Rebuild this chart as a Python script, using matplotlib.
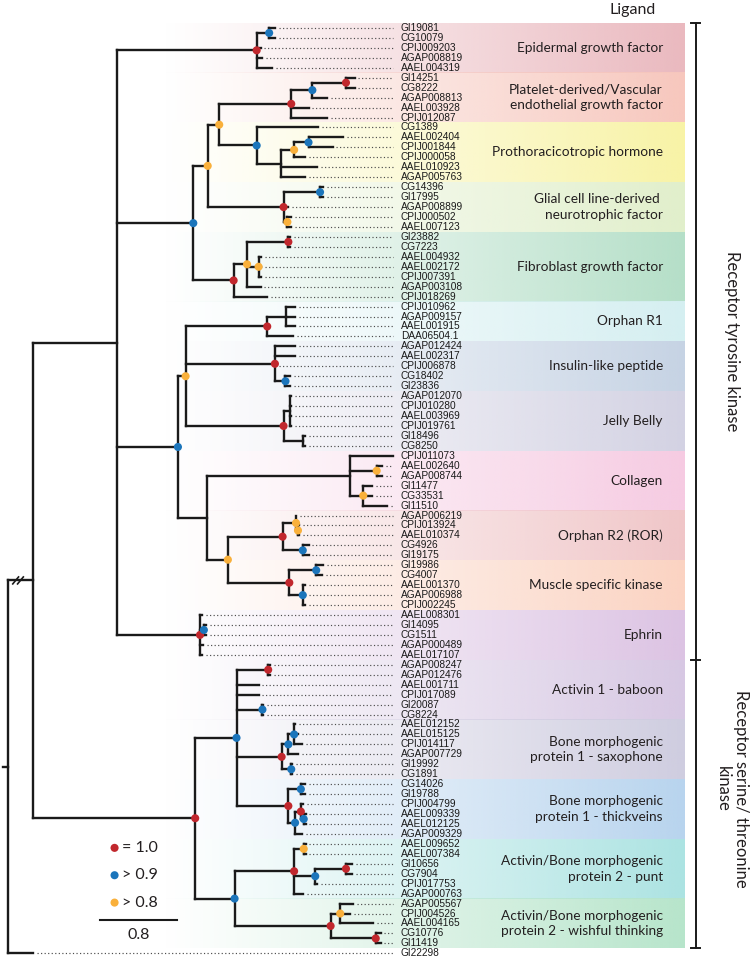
import numpy as np
import matplotlib
matplotlib.use("Agg")
import matplotlib.pyplot as plt
from matplotlib.collections import LineCollection
from matplotlib.colors import to_rgb

# Tree in Newick form: number after ':' = distance from root, label after ')' = posterior support
egf = "((GI19081:2.78,CG10079:2.78)0.95:2.72,CPIJ009203:2.63,AGAP008819:2.65,AAEL004319:2.75)1:2.59"
pdgf = "(((GI14251:3.61,CG8222:3.61)1:3.52,AGAP008813:3.32)0.95:3.17,AAEL003928:3.13,CPIJ012087:3.32)1:2.95"
ptth = ("(CG1389:3.23,(((AAEL002404:3.49,CPIJ001844:3.38)0.95:3.13,CPIJ000058:3.09)0.85:2.98,"
        "AAEL010923:3.22,AGAP005763:3.09):2.84)0.95:2.59")
gdnf = "((CG14396:3.28,GI17995:3.28)0.95:3.25,AGAP008899:2.92,(CPIJ000502:2.95,AAEL007123:2.95)0.85:2.91)1:2.87"
fgf = ("(((GI23882:2.94,CG7223:2.94)1:2.92,(AAEL004932:2.64,AAEL002172:2.64,CPIJ007391:2.64)0.85:2.61,"
       "AGAP003108:2.63)0.85:2.49,CPIJ018269:2.70)1:2.35")
orphan1 = "((CPIJ010962:2.99,AGAP009157:2.99,AAEL001915:2.99):2.90,DAA06504.1:2.97)1:2.70"
insulin = "(AGAP012424:2.99,AAEL002317:2.99,CPIJ006878:2.78,(CG18402:2.94,GI23836:2.94)0.95:2.89)1:2.78"
jelly = ("((AGAP012070:2.95,CPIJ010280:2.95,AAEL003969:2.95,CPIJ019761:2.95):2.94,"
         "(GI18496:3.09,CG8250:3.09):3.07)1:2.87")
collagen = ("(CPIJ011073:4.01,(AAEL002640:3.90,AGAP008744:3.90)0.85:3.84,"
            "(GI11477:3.79,CG33531:3.79,GI11510:3.95)0.85:3.70):3.56")
ror = "((AGAP006219:3.00,(CPIJ013924:3.03,AAEL010374:3.03)0.85:3.02)0.85:3.00,(CG4926:3.13,GI19175:3.13)0.95:3.07)1:2.86"
musk = "((GI19986:3.28,CG4007:3.27)0.95:3.21,(AAEL001370:3.09,AGAP006988:3.09,CPIJ002245:3.09)0.95:3.07)1:2.93"
ephrin = "(AAEL008301:2.02,(GI14095:2.06,CG1511:2.06)0.95:2.04,AGAP000489:2.03,AAEL017107:2.02)1:2.00"
baboon = "(AGAP008247:2.73,AGAP012476:2.73)1:2.71,AAEL001711:2.61,CPIJ017089:2.61,(GI20087:2.66,CG8224:2.66)0.95:2.65"
sax = ("(((AAEL012152:2.99,AAEL015125:3.02,CPIJ014117:3.06)0.95:2.98,AGAP007729:3.02)0.95:2.92,"
       "(GI19992:2.96,CG1891:2.96)0.95:2.95)1:2.85")
tkv = ("((CG14026:3.09,GI19788:3.09)0.95:3.05,((CPIJ004799:3.07,(AAEL009339:3.10,AAEL012125:3.10)0.95:3.08)1:3.05,"
       "AGAP009329:3.06)0.95:2.99)1:2.92")
punt = ("((AAEL009652:3.10,AAEL007384:3.10)0.85:3.08,((GI10656:3.58,CG7904:3.58)1:3.52,CPIJ017753:3.22)0.95:3.20,"
        "AGAP000763:3.07)1:2.98")
wishful = "((AGAP005567:3.59,CPIJ004526:3.56,AAEL004165:3.80)0.85:3.46,(CG10776:3.88,GI11419:3.88)1:3.83)1:3.36"

mid = f"((({pdgf},{ptth})0.85:2.20,{gdnf})0.85:2.08,{fgf})0.95:1.93"
low = f"(({orphan1},{insulin},{jelly})0.85:1.85,({collagen},({ror},{musk})0.85:2.29):2.07)0.95:1.77"
rtk = f"({egf},{mid},{low},{ephrin}):1.14"
rsk = f"(({baboon},{sax},{tkv})0.95:2.38,({punt},{wishful})0.95:2.36)1:1.95"
tree = f"(({rtk},{rsk}):0.26,GI22298:0.26):0;"

# Ligand groups (consecutive leaves)
group_names = ["Epidermal growth factor", "Platelet-derived/Vascular\nendothelial growth factor",
               "Prothoracicotropic hormone", "Glial cell line-derived \nneurotrophic factor",
               "Fibroblast growth factor", "Orphan R1", "Insulin-like peptide", "Jelly Belly",
               "Collagen", "Orphan R2 (ROR)", "Muscle specific kinase", "Ephrin",
               "Activin 1 - baboon", "Bone morphogenic\nprotein 1 - saxophone",
               "Bone morphogenic\nprotein 1 - thickveins", "Activin/Bone morphogenic\nprotein 2 - punt",
               "Activin/Bone morphogenic\nprotein 2 - wishful thinking"]
group_sizes = [5, 5, 6, 5, 7, 4, 5, 6, 6, 5, 5, 5, 6, 6, 6, 6, 5]
group_colors = ["#eab9bf", "#f7c7bd", "#f8f3a6", "#e1efcb", "#b5dfc8", "#d5eff1", "#c6d3e4",
                "#d3d2e3", "#f6cbe2", "#f0c6c8", "#fbd3c2", "#dcc3e3", "#d7c8e3", "#cfcde0",
                "#b8d4ee", "#ace3e2", "#b7e5cb"]

class_names = ["Receptor tyrosine kinase", "Receptor serine/ threonine\nkinase"]
class_group_counts = [12, 5]

support_levels = ["1", "0.95", "0.85"]
support_colors = ["#c1272d", "#1b75bb", "#f9b03b"]
legend_labels = ["= 1.0", "> 0.9", "> 0.8"]
scale_length = 0.8


def parse_newick(s):
    pos = 0

    def node():
        nonlocal pos
        children = []
        if s[pos] == "(":
            pos += 1
            children.append(node())
            while s[pos] == ",":
                pos += 1
                children.append(node())
            pos += 1
        start = pos
        while s[pos] not in ":,);":
            pos += 1
        label = s[start:pos]
        depth = 0.0
        if s[pos] == ":":
            pos += 1
            start = pos
            while s[pos] not in ",);":
                pos += 1
            depth = float(s[start:pos])
        return {"label": label, "depth": depth, "children": children}

    return node()


root = parse_newick(tree)
leaves = []
internals = []


def layout(n):
    if not n["children"]:
        n["y"] = len(leaves)
        leaves.append(n)
    else:
        for c in n["children"]:
            layout(c)
        n["y"] = (n["children"][0]["y"] + n["children"][-1]["y"]) / 2
        internals.append(n)


layout(root)

label_x = 4.09
dots_end = 4.01
band_left, band_right = 1.6, 7.04

fig = plt.figure(figsize=(7.56, 9.6), dpi=100)
ax = fig.add_axes([0, 0, 1, 1])
ax.axis("off")

# coloured ligand bands fading in from the left
ramp = np.linspace(0, 1, 300) ** 1.1
start = 0
for name, size, col in zip(group_names, group_sizes, group_colors):
    rgba = np.zeros((1, 300, 4))
    rgba[..., :3] = to_rgb(col)
    rgba[..., 3] = ramp
    top, bot = start - 0.5, start + size - 0.5
    ax.imshow(rgba, extent=[band_left, band_right, bot, top], aspect="auto",
              interpolation="bilinear", zorder=0)
    ax.text(6.82, (top + bot) / 2, name, ha="right", va="center", fontsize=9.8,
            family="Lato", color="#231f20", linespacing=1.35, zorder=3)
    start += size

# tree branches
segs = []
for n in internals:
    ys = [c["y"] for c in n["children"]]
    segs.append([(n["depth"], min(ys)), (n["depth"], max(ys))])
    for c in n["children"]:
        segs.append([(n["depth"], c["y"]), (c["depth"], c["y"])])
segs.append([(-0.05, root["y"]), (0, root["y"])])
ax.add_collection(LineCollection(segs, colors="#1a1a1a", linewidths=1.7,
                                 capstyle="projecting", zorder=2))

# dotted guides and leaf names
for lf in leaves:
    if lf["depth"] < dots_end - 0.02:
        ax.plot([lf["depth"] + 0.04, dots_end], [lf["y"], lf["y"]], color="#4d4d4d",
                lw=0.85, linestyle=(0, (1, 2.0)), zorder=1)
    ax.text(label_x, lf["y"], lf["label"], ha="left", va="center", fontsize=7.3,
            family="Liberation Sans", color="#1a1a1a", zorder=3)

# support dots
for lev, col in zip(support_levels, support_colors):
    pts = [(n["depth"], n["y"]) for n in internals if n["label"] == lev]
    xs, ys = zip(*pts)
    ax.scatter(xs, ys, s=34, color=col, edgecolors="none", zorder=4)

# break mark on the ingroup branch
ing = root["children"][0]
for dx in (0.08, 0.13):
    ax.plot([dx - 0.03, dx + 0.03], [ing["y"] + 0.35, ing["y"] - 0.35], color="#1a1a1a", lw=1.2, zorder=5)

# legend and scale bar
for i, (lab, col) in enumerate(zip(legend_labels, support_colors)):
    yy = 82.4 + 2.75 * i
    ax.scatter([1.11], [yy], s=34, color=col, edgecolors="none", zorder=4)
    ax.text(1.19, yy, lab, ha="left", va="center", fontsize=11.5, family="Lato", color="#231f20")
ax.plot([0.96, 0.96 + scale_length], [89.7, 89.7], color="#1a1a1a", lw=1.5)
ax.text(0.96 + scale_length / 2, 91.2, f"{scale_length:.1f}", ha="center", va="center",
        fontsize=11.5, family="Lato", color="#231f20")

# class brackets
bx = 7.16
start = 0
bounds = [-0.5]
for cnt in class_group_counts:
    n_leaf = sum(group_sizes[start:start + cnt])
    bounds.append(bounds[-1] + n_leaf)
    start += cnt
ax.plot([bx, bx], [bounds[0], bounds[-1]], color="#1a1a1a", lw=1.4)
for b in bounds:
    ax.plot([bx - 0.05, bx + 0.05], [b, b], color="#1a1a1a", lw=1.4)
for i, name in enumerate(class_names):
    mid_y = (bounds[i] + bounds[i + 1]) / 2
    if i == 1:
        mid_y -= 1.5
    ax.text(7.54, mid_y, name, rotation=270, ha="center", va="center", fontsize=12,
            family="Lato", color="#231f20", linespacing=1.1)
ax.text(6.51, -1.85, "Ligand", ha="center", va="center", fontsize=11.5, family="Lato", color="#231f20")

ax.set_xlim(-0.083, 7.79)
ax.set_ylim(93.67, -2.81)
fig.savefig("out.png", dpi=100)
